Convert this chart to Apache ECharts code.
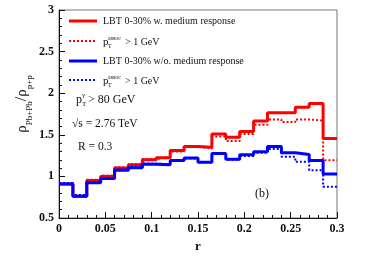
<!DOCTYPE html>
<html>
<head>
<meta charset="utf-8">
<script src="https://cdn.jsdelivr.net/npm/echarts@6/dist/echarts.min.js"></script>
<style>
html,body{margin:0;padding:0;background:#fff;}
#c{width:365px;height:262px;}
</style>
</head>
<body>
<div id="c"></div>
<script>
// Bin edges in r (20 bins of 0.015)
var rBinEdges = [0, 0.015, 0.03, 0.045, 0.06, 0.075, 0.09, 0.105, 0.12, 0.135, 0.15,
                 0.165, 0.18, 0.195, 0.21, 0.225, 0.24, 0.255, 0.27, 0.285, 0.3];
// LBT 0-30% w. medium response
var redSolid = [0.91, 0.76, 0.95, 1.00, 1.10, 1.14, 1.20, 1.225, 1.31, 1.36,
                1.35, 1.51, 1.47, 1.54, 1.665, 1.765, 1.765, 1.83, 1.875, 1.455];
// w. medium response, pT assoc > 1 GeV
var redDotted = [0.92, 0.77, 0.96, 1.01, 1.11, 1.15, 1.21, 1.23, 1.30, 1.355,
                 1.335, 1.48, 1.425, 1.51, 1.62, 1.685, 1.655, 1.685, 1.67, 1.195];
// LBT 0-30% w/o. medium response
var blueSolid = [0.91, 0.76, 0.925, 0.975, 1.075, 1.105, 1.145, 1.14, 1.19, 1.22,
                 1.17, 1.275, 1.205, 1.26, 1.297, 1.36, 1.285, 1.262, 1.19, 1.03];
// w/o. medium response, pT assoc > 1 GeV
var blueDotted = [0.92, 0.775, 0.935, 0.985, 1.085, 1.115, 1.155, 1.145, 1.19, 1.215,
                  1.17, 1.27, 1.2, 1.245, 1.285, 1.33, 1.235, 1.175, 1.075, 0.875];

var xTicks = [0, 0.05, 0.1, 0.15, 0.2, 0.25, 0.3];
var yTicks = [0.5, 1, 1.5, 2, 2.5, 3];

function histData(vals) {
  var d = [];
  for (var i = 0; i < vals.length; i++) d.push([rBinEdges[i], vals[i]]);
  d.push([rBinEdges[vals.length], vals[vals.length - 1]]);
  return d;
}

var serif = '"Liberation Serif", "DejaVu Serif", serif';

function mkSeries(name, vals, color, dotted) {
  return {
    name: name, type: 'line', step: 'end', data: histData(vals),
    symbol: 'none', animation: false, silent: true,
    lineStyle: dotted ? {color: color, width: 2, type: [2, 2]} : {color: color, width: 3},
    itemStyle: {color: color}
  };
}

var chart = echarts.init(document.getElementById('c'), null, {renderer: 'canvas'});

var txt = function (x, y, s, size, extra) {
  var st = {text: s, font: (size) + 'px ' + serif, fill: '#111', textVerticalAlign: 'middle', textAlign: 'left'};
  if (extra) for (var k in extra) st[k] = extra[k];
  return {type: 'text', x: x, y: y, style: st, z: 100};
};
var lineG = function (y, color, dotted) {
  return {type: 'line', shape: {x1: 69, y1: y, x2: 97, y2: y}, z: 100,
    style: {stroke: color, lineWidth: dotted ? 2 : 3, lineDash: dotted ? [2, 2] : null}};
};

chart.setOption({
  animation: false,
  grid: {left: 59, right: 28, top: 10, bottom: 44, show: true, borderColor: '#777', borderWidth: 1, backgroundColor: 'transparent'},
  xAxis: {
    type: 'value', min: 0, max: 0.3, interval: 0.05,
    name: 'r', nameLocation: 'middle', nameGap: 18,
    nameTextStyle: {fontFamily: serif, fontWeight: 'bold', fontSize: 13, color: '#111'},
    axisLine: {show: true, lineStyle: {color: '#111', width: 1}},
    axisTick: {show: true, inside: true, length: 6, lineStyle: {color: '#111'}},
    minorTick: {show: true, splitNumber: 5, length: 3, lineStyle: {color: '#111'}},
    splitLine: {show: false},
    axisLabel: {fontFamily: serif, fontWeight: 'bold', fontSize: 12, color: '#111', margin: 5,
      formatter: function (v) { return String(+v.toFixed(3)); }}
  },
  yAxis: {
    type: 'value', min: 0.5, max: 3, interval: 0.5,
    axisLine: {show: true, lineStyle: {color: '#111', width: 1}},
    axisTick: {show: true, inside: true, length: 6, lineStyle: {color: '#111'}},
    minorTick: {show: true, splitNumber: 5, length: 3, lineStyle: {color: '#111'}},
    splitLine: {show: false},
    axisLabel: {fontFamily: serif, fontWeight: 'bold', fontSize: 12, color: '#111', margin: 5,
      formatter: function (v) { return String(+v.toFixed(2)); }}
  },
  series: [
    mkSeries('LBT 0-30% w. medium response', redSolid, '#ff0000', false),
    mkSeries('w. pT assoc > 1 GeV', redDotted, '#ff0000', true),
    mkSeries('LBT 0-30% w/o. medium response', blueSolid, '#0000ff', false),
    mkSeries('w/o. pT assoc > 1 GeV', blueDotted, '#0000ff', true)
  ],
  graphic: [
    lineG(21, '#ff0000', false),
    lineG(41, '#ff0000', true),
    lineG(61, '#0000ff', false),
    lineG(80, '#0000ff', true),
    txt(103, 21, 'LBT 0-30% w. medium response', 10),
    txt(103, 42, 'p', 11),
    txt(108, 38, 'assoc', 6),
    txt(108, 46, 'T', 6),
    txt(125, 42, '> 1 GeV', 10),
    txt(103, 61, 'LBT 0-30% w/o. medium response', 10),
    txt(103, 81, 'p', 11),
    txt(108, 77, 'assoc', 6),
    txt(108, 85, 'T', 6),
    txt(125, 81, '> 1 GeV', 10),
    txt(76, 100, 'p', 12),
    txt(82, 95, 'γ', 7),
    txt(82, 104, 'T', 7),
    txt(88, 100, '> 80 GeV', 12),
    txt(72, 124, '√s = 2.76 TeV', 11.5),
    txt(78, 147, 'R = 0.3', 11.5),
    txt(262, 194, '(b)', 12, {textAlign: 'center'}),
    {
      type: 'text', x: 22, y: 104, rotation: Math.PI / 2, z: 100,
      style: {
        text: '{r|ρ}{s|Pb+Pb}{q|/}{r|ρ}{s|p+p}',
        textAlign: 'center', textVerticalAlign: 'middle',
        rich: {
          r: {fontFamily: serif, fontSize: 15, fill: '#111', lineHeight: 18, verticalAlign: 'middle'},
          q: {fontFamily: serif, fontSize: 16, fill: '#111', lineHeight: 18, verticalAlign: 'middle'},
          s: {fontFamily: serif, fontSize: 9, fill: '#111', lineHeight: 18, verticalAlign: 'bottom', padding: [0, 0, -3, 0]}
        }
      }
    }
  ]
});
</script>
</body>
</html>
